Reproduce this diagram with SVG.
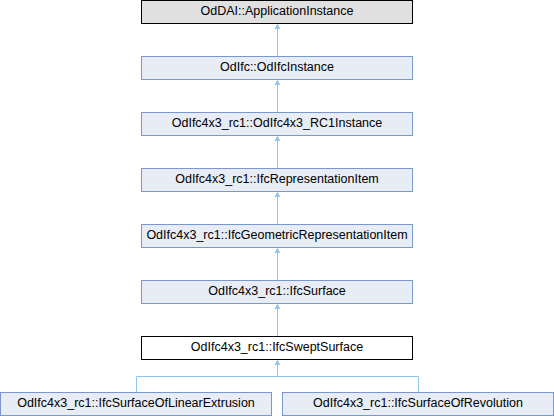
<svg xmlns="http://www.w3.org/2000/svg" width="554" height="416" viewBox="0 0 554 416">
<defs>
<style>
.node rect{fill:#e8ecf5;stroke:#7b97cf;stroke-width:1}
.node text{font-family:"Liberation Sans",Arial,sans-serif;font-size:12.5px;fill:#000;text-anchor:middle}
#n1 rect{fill:#e0e0e0;stroke:#000}
#n7 rect{fill:#fff;stroke:#000}
.edges path{fill:none;stroke:#8ec6ee;stroke-width:1}
.edges polygon{fill:#8ec6ee;stroke:#8ec6ee;stroke-width:1}
</style>
</defs>
<rect width="554" height="416" fill="#fff"/>
<g class="edges" id="edges">
<path d="M277.5,28 V56.5"/><polygon points="277.5,24.5 275.3,28.5 279.7,28.5"/>
<path d="M277.5,84 V112.5"/><polygon points="277.5,80.5 275.3,84.5 279.7,84.5"/>
<path d="M277.5,140 V168.5"/><polygon points="277.5,136.5 275.3,140.5 279.7,140.5"/>
<path d="M277.5,196 V224.5"/><polygon points="277.5,192.5 275.3,196.5 279.7,196.5"/>
<path d="M277.5,252 V280.5"/><polygon points="277.5,248.5 275.3,252.5 279.7,252.5"/>
<path d="M277.5,308 V336.5"/><polygon points="277.5,304.5 275.3,308.5 279.7,308.5"/>
<path d="M277.5,364 V376.5 M136.5,392.5 V376.5 H418.5 V392.5"/><polygon points="277.5,360.5 275.3,364.5 279.7,364.5"/>
</g>
<g class="node" id="n1"><rect x="141.5" y="0.5" width="271" height="23"/><text x="277" y="15">OdDAI::ApplicationInstance</text></g>
<g class="node" id="n2"><rect x="141.5" y="56.5" width="271" height="23"/><text x="277" y="71">OdIfc::OdIfcInstance</text></g>
<g class="node" id="n3"><rect x="141.5" y="112.5" width="271" height="23"/><text x="277" y="127">OdIfc4x3_rc1::OdIfc4x3_RC1Instance</text></g>
<g class="node" id="n4"><rect x="141.5" y="168.5" width="271" height="23"/><text x="277" y="183">OdIfc4x3_rc1::IfcRepresentationItem</text></g>
<g class="node" id="n5"><rect x="141.5" y="224.5" width="271" height="23"/><text x="277" y="239">OdIfc4x3_rc1::IfcGeometricRepresentationItem</text></g>
<g class="node" id="n6"><rect x="141.5" y="280.5" width="271" height="23"/><text x="277" y="295">OdIfc4x3_rc1::IfcSurface</text></g>
<g class="node" id="n7"><rect x="141.5" y="336.5" width="271" height="23"/><text x="277" y="351">OdIfc4x3_rc1::IfcSweptSurface</text></g>
<g class="node" id="n8"><rect x="0.5" y="392.5" width="271" height="23"/><text x="136" y="407">OdIfc4x3_rc1::IfcSurfaceOfLinearExtrusion</text></g>
<g class="node" id="n9"><rect x="282.5" y="392.5" width="271" height="23"/><text x="418" y="407">OdIfc4x3_rc1::IfcSurfaceOfRevolution</text></g>
</svg>
